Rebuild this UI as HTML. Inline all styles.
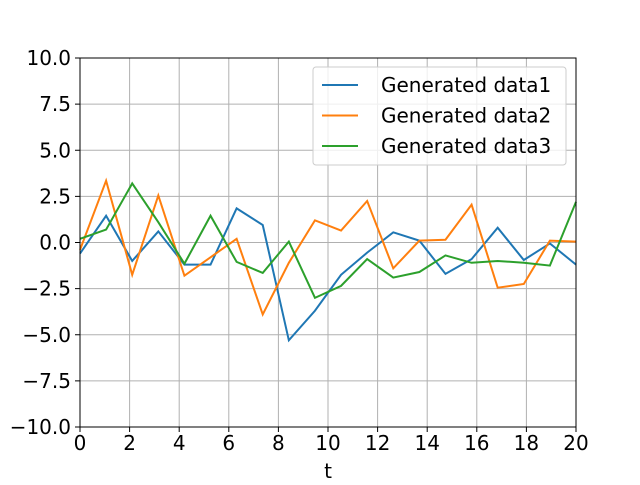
<!DOCTYPE html>
<html><head><meta charset="utf-8"><style>body{margin:0;background:#fff}svg{font-family:"DejaVu Sans","Liberation Sans",sans-serif}</style></head>
<body>
<svg id="c" width="640" height="480"></svg>
<script>
const xTicks=[0,2,4,6,8,10,12,14,16,18,20];
const yTicks=[-10,-7.5,-5,-2.5,0,2.5,5,7.5,10];
const yTickLabels=["−10.0","−7.5","−5.0","−2.5","0.0","2.5","5.0","7.5","10.0"];
const seriesNames=["Generated data1","Generated data2","Generated data3"];
const data1=[-0.6,1.45,-1.0,0.6,-1.2,-1.2,1.85,0.95,-5.3,-3.7,-1.75,-0.55,0.55,0.1,-1.7,-0.9,0.8,-0.95,-0.05,-1.2];
const data2=[-0.4,3.35,-1.75,2.55,-1.8,-0.8,0.2,-3.9,-1.1,1.2,0.65,2.25,-1.4,0.1,0.15,2.05,-2.45,-2.25,0.1,0.05];
const data3=[0.2,0.7,3.2,1.1,-1.15,1.45,-1.05,-1.65,0.05,-3.0,-2.35,-0.9,-1.9,-1.6,-0.7,-1.1,-1.0,-1.1,-1.25,2.2];
const colors=["#1f77b4","#ff7f0e","#2ca02c"];
const L=80,R=576,T=58,B=427;
const X=v=>L+(v-0)/20*(R-L), Y=v=>B-(v+10)/20*(B-T);
const svg=document.getElementById('c');const NS="http://www.w3.org/2000/svg";
function mk(t,a,p){const e=document.createElementNS(NS,t);for(const k in a)e.setAttribute(k,a[k]);(p||svg).appendChild(e);return e;}
xTicks.forEach(v=>{
 const g=mk('line',{x1:X(v),x2:X(v),y1:T,y2:B,stroke:'#b0b0b0','stroke-width':1});
 
 
 mk('line',{x1:X(v),x2:X(v),y1:B,y2:B+5,stroke:'#000','stroke-width':1});
 const t=mk('text',{x:X(v),y:B+23,'text-anchor':'middle','font-size':20});t.textContent=v;
 
 
});
yTicks.forEach((v,i)=>{
 const g=mk('line',{x1:L,x2:R,y1:Y(v),y2:Y(v),stroke:'#b0b0b0','stroke-width':1});
 
 
 mk('line',{x1:L-5,x2:L,y1:Y(v),y2:Y(v),stroke:'#000','stroke-width':1});
 const t=mk('text',{x:L-9,y:Y(v)+7,'text-anchor':'end','font-size':20});t.textContent=yTickLabels[i];
 
 
});
[data1,data2,data3].forEach((d,s)=>{
 const pts=d.map((v,i)=>X(i*20/(d.length-1))+','+Y(v)).join(' ');
 const p=mk('polyline',{points:pts,fill:'none',stroke:colors[s],'stroke-width':2});
 
 
});
const fr=mk('rect',{x:L,y:T,width:R-L,height:B-T,fill:'none',stroke:'#000','stroke-width':1});


const xl=mk('text',{x:(L+R)/2,y:478,'text-anchor':'middle','font-size':20});xl.textContent='t';


const lg=mk('g',{});


mk('rect',{x:313,y:67,width:253,height:98,rx:3,fill:'#fff','fill-opacity':0.8,stroke:'#ccc'},lg);
seriesNames.forEach((n,i)=>{
 const y=85+i*30.5;
 mk('line',{x1:322,x2:358,y1:y,y2:y,stroke:colors[i],'stroke-width':2},lg);
 const t=mk('text',{x:381,y:y+7,'font-size':20},lg);t.textContent=n;
 
 
});
</script>
</body></html>
